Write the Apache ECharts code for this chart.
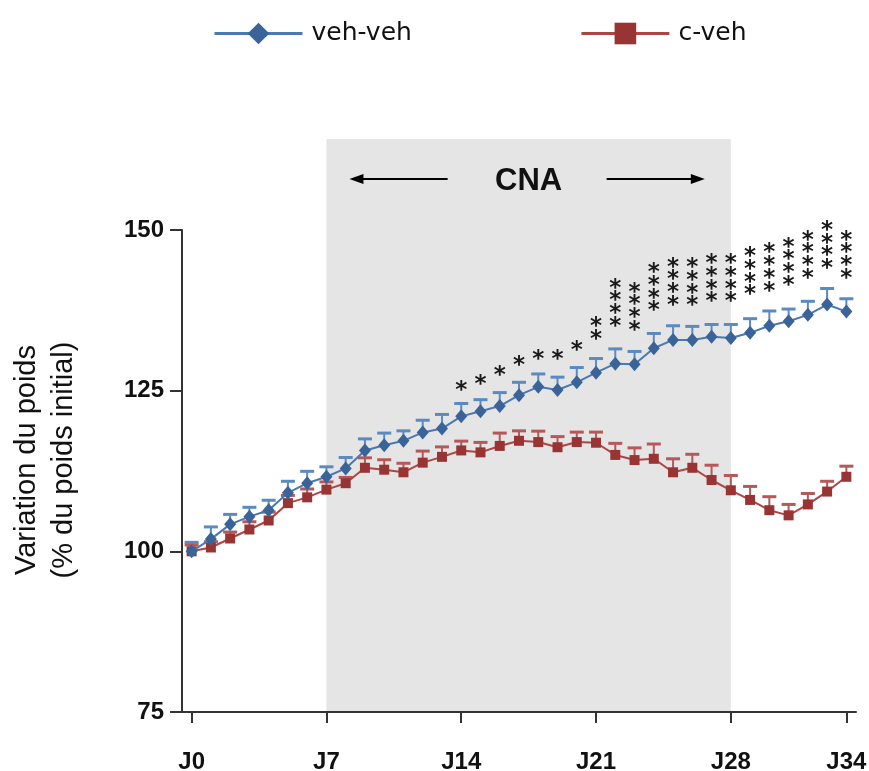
<!DOCTYPE html>
<html><head><meta charset="utf-8">
<script src="https://cdn.jsdelivr.net/npm/echarts@6/dist/echarts.min.js"></script>
<style>html,body{margin:0;padding:0;background:#fff}#c{width:869px;height:771px}</style>
</head><body><div id="c"></div>
<script>
// ---- data ----
const days = [0,1,2,3,4,5,6,7,8,9,10,11,12,13,14,15,16,17,18,19,20,21,22,23,24,25,26,27,28,29,30,31,32,33,34];
const vehMean = [100,101.9,104.2,105.4,106.4,109.1,110.6,111.6,112.9,115.7,116.5,117.2,118.5,119.1,121.0,121.8,122.6,124.3,125.6,125.1,126.3,127.8,129.2,129.1,131.6,132.9,132.9,133.4,133.2,134.0,135.1,135.8,136.8,138.4,137.3];
const vehErr = [1.4,1.9,1.55,1.45,1.55,1.8,1.85,1.55,1.7,1.8,1.9,1.55,1.9,2.2,2.0,1.8,2.1,2.0,2.0,2.0,2.3,2.2,2.3,2.0,2.3,2.2,2.1,1.9,2.1,2.2,2.3,1.9,2.1,2.5,2.0];
const cvehMean = [100,100.6,102.0,103.4,104.8,107.5,108.4,109.6,110.6,113.0,112.7,112.3,113.8,114.7,115.7,115.4,116.4,117.2,117.0,116.2,117.0,116.9,115.0,114.2,114.4,112.3,113.0,111.1,109.5,108.0,106.4,105.6,107.3,109.3,111.6];
const cvehErr = [1.0,0.9,1.0,1.2,1.3,1.2,1.3,1.2,0.9,1.55,1.55,1.4,1.8,1.55,1.45,1.55,2.0,1.55,1.7,1.65,1.55,1.65,1.8,1.9,2.3,2.1,2.1,2.3,2.3,2.1,2.1,1.7,1.7,1.6,1.65];
const sigDays = [14,15,16,17,18,19,20,21,22,23,24,25,26,27,28,29,30,31,32,33,34];
const sigStars = [1,1,1,1,1,1,1,2,4,4,4,4,4,4,4,4,4,4,4,4,4];
const sigY = [125.7,126.6,128.0,129.6,130.6,130.5,131.9,133.7,135.7,135.1,138.1,139.0,138.9,139.5,139.5,140.6,141.2,142.1,143.2,144.7,143.2];
const xTickDays = [0,7,14,21,28,34];
const xTickLabels = ['J0','J7','J14','J21','J28','J34'];
const yTicks = [75,100,125,150];
const cnaPeriod = [7,28];
const seriesNames = ['veh-veh','c-veh'];
const cnaLabel = 'CNA';
const yTitle = 'Variation du poids\n(% du poids initial)';

// ---- styles ----
const BLUE = '#3a6399', BLUE_LINE = '#4a78b0', BLUE_ERR = '#5b8ac0';
const RED = '#983434', RED_LINE = '#ad4545', RED_ERR = '#b5585a';

function errRender(color) {
  return function (params, api) {
    const x = api.value(0), m = api.value(1), e = api.value(2);
    const p0 = api.coord([x, m]), p1 = api.coord([x, m + e]);
    const hw = 7;
    return { type: 'group', children: [
      { type: 'line', shape: { x1: p0[0], y1: p0[1], x2: p1[0], y2: p1[1] }, style: { stroke: color, lineWidth: 2 } },
      { type: 'line', shape: { x1: p1[0] - hw, y1: p1[1], x2: p1[0] + hw, y2: p1[1] }, style: { stroke: color, lineWidth: 3 } }
    ]};
  };
}

const chart = echarts.init(document.getElementById('c'));
chart.setOption({
  animation: false,
  backgroundColor: '#fff',
  grid: { left: 182, right: 13, top: 230, bottom: 59, outerBoundsMode: 'none', containLabel: false },
  legend: {
    data: seriesNames, top: 21, left: 213, padding: 0, itemWidth: 88, itemHeight: 27, itemGap: 168,
    lineStyle: { width: 3 },
    textStyle: { fontFamily: 'DejaVu Sans', fontSize: 25, color: '#111', padding: [0, 0, 0, 4] }
  },
  xAxis: {
    type: 'value', min: -0.5, max: 34.5,
    splitLine: { show: false },
    axisLine: { onZero: false, lineStyle: { color: '#333', width: 2 } },
    axisTick: { customValues: xTickDays, length: 11, lineStyle: { color: '#333', width: 2 } },
    axisLabel: {
      customValues: xTickDays,
      formatter: v => xTickLabels[xTickDays.indexOf(v)],
      margin: 38, fontFamily: 'Liberation Sans', fontWeight: 'bold', fontSize: 24, color: '#111'
    }
  },
  yAxis: {
    type: 'value', min: 75, max: 150, interval: 25,
    splitLine: { show: false },
    axisLine: { show: true, onZero: false, lineStyle: { color: '#333', width: 2 } },
    axisTick: { show: true, customValues: yTicks, length: 12, lineStyle: { color: '#333', width: 2 } },
    axisLabel: { customValues: yTicks, margin: 18, fontFamily: 'Liberation Sans', fontWeight: 'bold', fontSize: 24, color: '#111' },
    name: yTitle, nameLocation: 'middle', nameRotate: 90, nameGap: 100,
    nameTextStyle: { fontFamily: 'Liberation Sans', fontSize: 29, lineHeight: 37, color: '#111', padding: [0, 0, 0, 22] }
  },
  series: [
    {
      type: 'custom', silent: true, clip: false, z: 0,
      data: [cnaPeriod],
      encode: { x: [0, 1] },
      renderItem: function (params, api) {
        const bottom = api.coord([api.value(0), 75]);
        const right = api.coord([api.value(1), 75]);
        const top = params.coordSys.y - 91;
        const x0 = bottom[0], x1 = right[0], cx = (x0 + x1) / 2, ay = top + 40;
        const arrowStyle = { stroke: '#000', lineWidth: 2 };
        return { type: 'group', children: [
          { type: 'rect', shape: { x: x0, y: top, width: x1 - x0, height: bottom[1] - top }, style: { fill: '#e5e5e5' } },
          { type: 'line', shape: { x1: cx - 81, y1: ay, x2: x0 + 34, y2: ay }, style: arrowStyle },
          { type: 'polygon', shape: { points: [[x0 + 23, ay], [x0 + 37, ay - 5], [x0 + 37, ay + 5]] }, style: { fill: '#000' } },
          { type: 'line', shape: { x1: cx + 78, y1: ay, x2: x1 - 37, y2: ay }, style: arrowStyle },
          { type: 'polygon', shape: { points: [[x1 - 26, ay], [x1 - 40, ay - 5], [x1 - 40, ay + 5]] }, style: { fill: '#000' } },
          { type: 'text', x: cx, y: ay + 2, style: { text: cnaLabel, fontFamily: 'Liberation Sans', fontWeight: 'bold', fontSize: 31, fill: '#111', align: 'center', verticalAlign: 'middle' } }
        ]};
      }
    },
    {
      type: 'custom', silent: true, z: 1,
      data: days.map((d, i) => [d, vehMean[i], vehErr[i]]),
      encode: { x: 0, y: 1 },
      renderItem: errRender(BLUE_ERR)
    },
    {
      type: 'custom', silent: true, z: 1,
      data: days.map((d, i) => [d, cvehMean[i], cvehErr[i]]),
      encode: { x: 0, y: 1 },
      renderItem: errRender(RED_ERR)
    },
    {
      name: seriesNames[1], type: 'line', z: 3,
      data: days.map((d, i) => [d, cvehMean[i]]),
      symbol: 'rect', symbolSize: 10,
      itemStyle: { color: RED },
      lineStyle: { color: RED_LINE, width: 2 }
    },
    {
      name: seriesNames[0], type: 'line', z: 4,
      data: days.map((d, i) => [d, vehMean[i]]),
      symbol: 'diamond', symbolSize: [12, 14],
      itemStyle: { color: BLUE },
      lineStyle: { color: BLUE_LINE, width: 2 }
    },
    {
      type: 'custom', silent: true, clip: false, z: 5,
      data: sigDays.map((d, i) => [d, sigY[i], sigStars[i]]),
      encode: { x: 0, y: 1 },
      renderItem: function (params, api) {
        const p = api.coord([api.value(0), api.value(1)]);
        const n = api.value(2);
        const ch = [];
        for (let k = 0; k < n; k++) {
          ch.push({ type: 'text', x: p[0], y: p[1] - k * 12.7 + 5,
            style: { text: '*', fill: '#1a1a1a', fontFamily: 'DejaVu Sans', fontWeight: 'bold', fontSize: 23, align: 'center', verticalAlign: 'middle' } });
        }
        return { type: 'group', children: ch };
      }
    }
  ]
});
</script>
</body></html>
